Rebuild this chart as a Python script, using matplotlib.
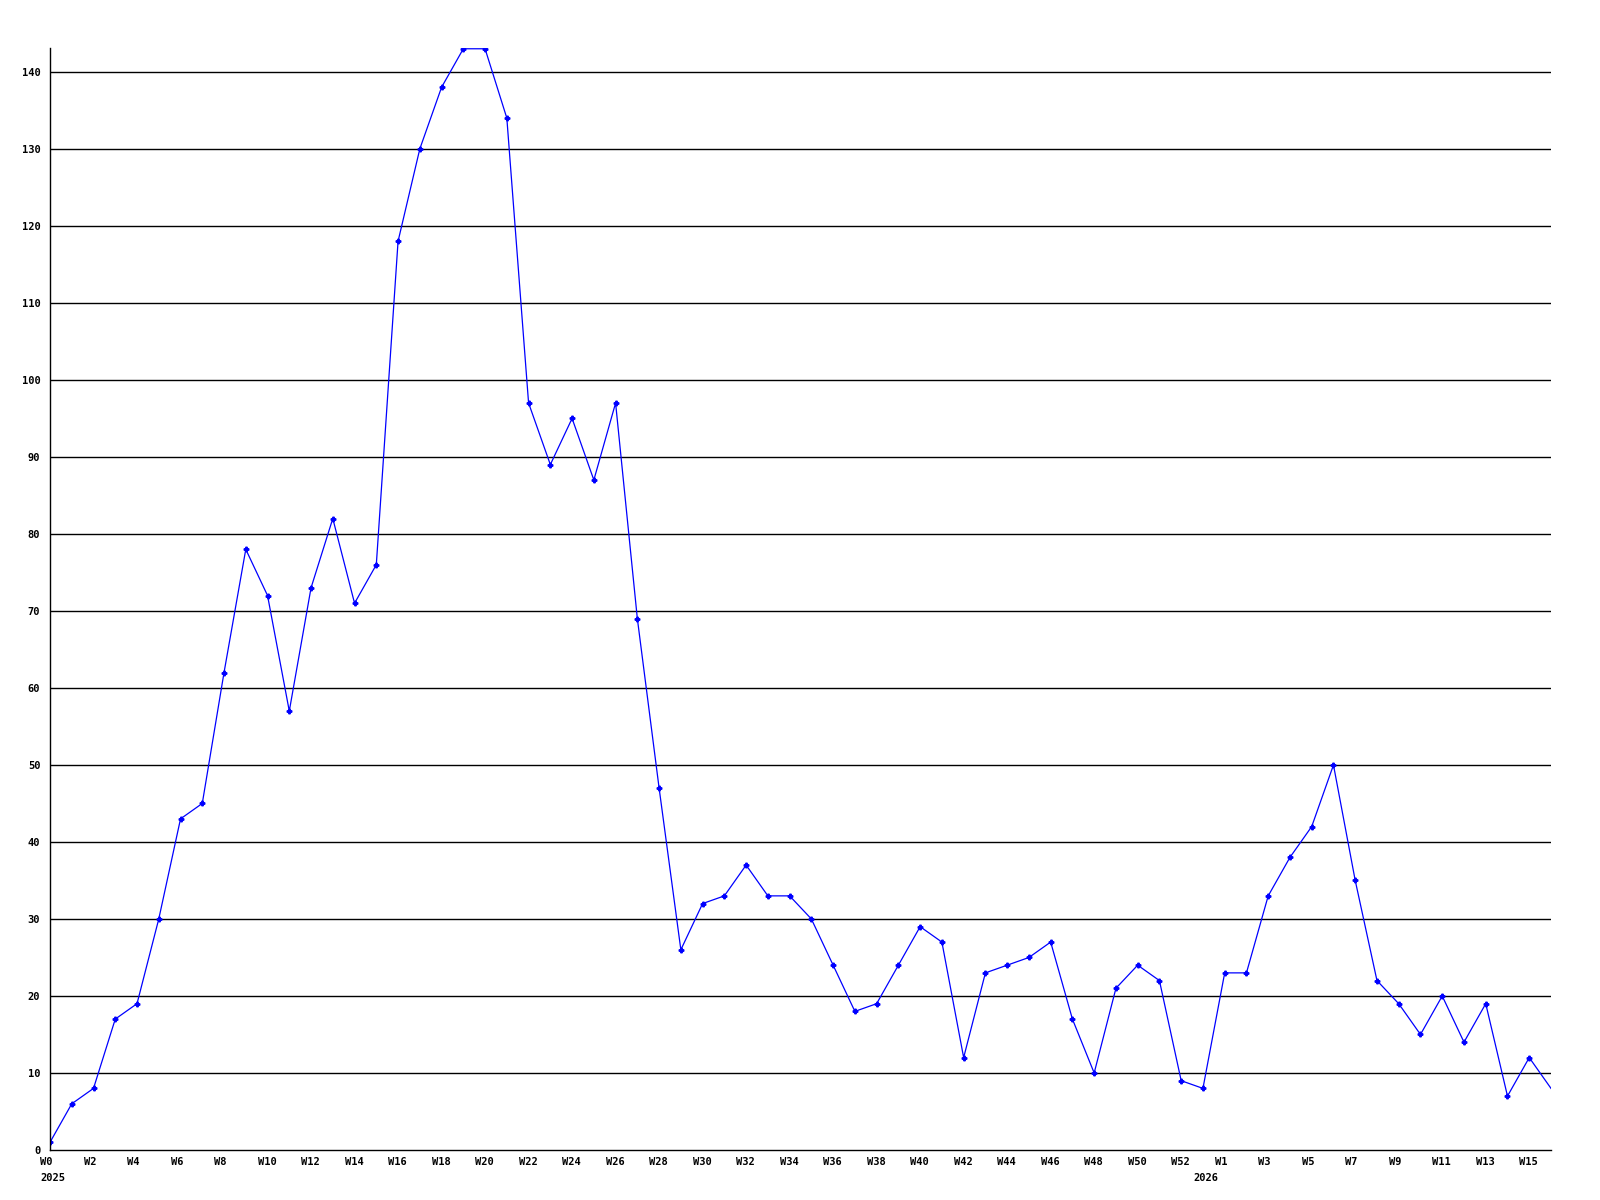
import matplotlib
matplotlib.use("Agg")
import matplotlib.pyplot as plt
import matplotlib.transforms as mtransforms

# weekly counts, 2025 W0..W52 then 2026 W0..W16
counts_2025 = [1, 6, 8, 17, 19, 30, 43, 45, 62, 78, 72, 57, 73, 82, 71, 76,
               118, 130, 138, 143, 143, 134, 97, 89, 95, 87, 97, 69, 47, 26,
               32, 33, 37, 33, 33, 30, 24, 18, 19, 24, 29, 27, 12, 23, 24,
               25, 27, 17, 10, 21, 24, 22, 9]
counts_2026 = [8, 23, 23, 33, 38, 42, 50, 35, 22, 19, 15, 20, 14, 19, 7, 12, 8]

weeks = [f"W{i}" for i in range(len(counts_2025))] + \
        [f"W{i}" for i in range(len(counts_2026))]
values = counts_2025 + counts_2026
years = ["2025", "2026"]
year_starts = [0, len(counts_2025)]
y_ticks = list(range(0, 150, 10))

fig = plt.figure(figsize=(16, 12), dpi=100)
ax = fig.add_axes([50 / 1600, 50 / 1200, 1501 / 1600, 1102 / 1200])

x = list(range(len(values)))
ax.plot(x, values, color="#0000ff", lw=0.9, marker="P", ms=3.3,
        mec="#0000ff", mfc="#0000ff", markevery=slice(0, len(values) - 1))

ax.set_xlim(0, len(values) - 1)
ax.set_ylim(0, 143.1)

for v in y_ticks[1:]:
    ax.axhline(v, color="black", lw=1.0, zorder=0)

font = dict(family="DejaVu Sans Mono", weight="bold", size=7.5)

ax.set_yticks(y_ticks)
ax.set_yticklabels([str(v) for v in y_ticks], fontdict=font)
tick_pos = x[0:-1:2]
ax.set_xticks(tick_pos)
ax.set_xticklabels([weeks[i] for i in tick_pos], fontdict=font)
ax.tick_params(axis="both", length=0)
ax.tick_params(axis="y", pad=7)
ax.tick_params(axis="x", pad=5)

# week labels start a little left of their tick, like the original
shift = mtransforms.ScaledTranslation(-10 / 100, 0, fig.dpi_scale_trans)
for lbl in ax.get_xticklabels():
    lbl.set_horizontalalignment("left")
    lbl.set_transform(lbl.get_transform() + shift)

for yr, start in zip(years, year_starts):
    ax.annotate(yr, xy=(start, 0), xycoords=("data", "axes fraction"),
                xytext=(-7, -16.5), textcoords="offset points",
                ha="left", va="top", **font)

for side in ["top", "right"]:
    ax.spines[side].set_visible(False)
for side in ["left", "bottom"]:
    ax.spines[side].set_linewidth(1.0)
    ax.spines[side].set_color("black")

fig.savefig("out.png", dpi=100, facecolor="white")
